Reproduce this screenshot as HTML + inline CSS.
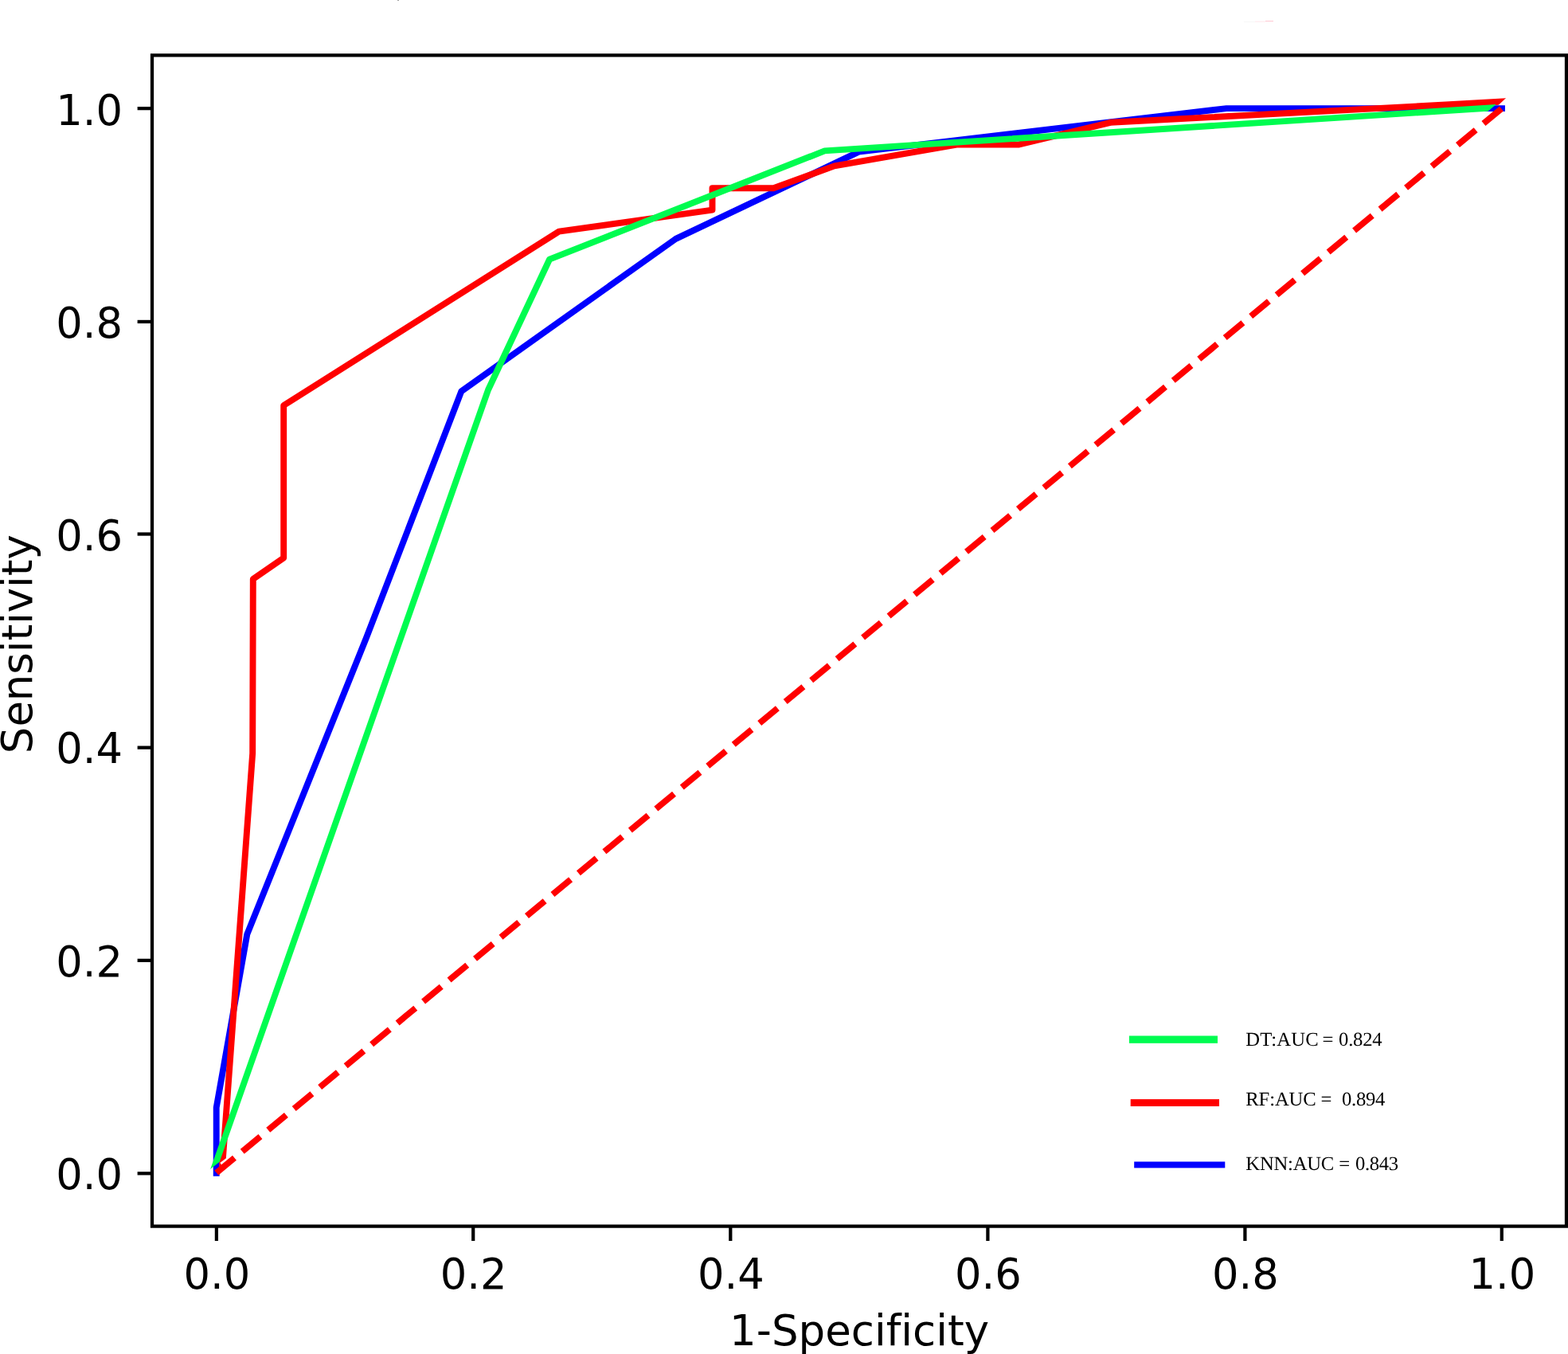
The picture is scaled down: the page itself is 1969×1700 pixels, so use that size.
<!DOCTYPE html>
<html lang="en">
<head>
<meta charset="utf-8">
<title>ROC curves</title>
<style>
html,body{margin:0;padding:0;background:#fff;}
body{width:1969px;height:1700px;overflow:hidden;}
svg{display:block;}
.t{font-family:"DejaVu Sans","Liberation Sans",sans-serif;font-size:52.7px;fill:#000;font-variant-ligatures:none;font-feature-settings:"liga" 0,"clig" 0;font-kerning:none;}
.lg{font-family:"Liberation Serif","DejaVu Serif",serif;font-size:24.7px;fill:#000;white-space:pre;text-rendering:geometricPrecision;}
.c{fill:none;stroke-width:7.9;stroke-linejoin:round;stroke-linecap:butt;}
.sq{stroke-linecap:square;}
</style>
</head>
<body>
<svg width="1969" height="1700" viewBox="0 0 1969 1700">
<rect x="0" y="0" width="1969" height="1700" fill="#fff"/>
<defs>
<clipPath id="cg"><polygon points="0,0 2033.3,0 1670.9,307.5 800,1051 264.2,1467.8 0,1673"/></clipPath>
<clipPath id="cr"><polygon points="0,0 2021.7,0 1702.9,300.3 800,1074 283.96,1454.2 0,1663"/></clipPath>
</defs>
<polyline class="c sq" stroke="#0000ff" points="271.7,1472.7 271.7,1390.6 310.3,1173 460.3,800 579.4,491.2 848.6,299.9 1078.4,190.6 1540.2,136.1 1886,136.1"/>
<polyline class="c" stroke="#ff0000" clip-path="url(#cr)" points="277.5,1487 317.2,945.7 317.8,727.1 356.2,700.4 356.2,509 701.9,290.7 894.5,263.6 894.5,236.1 971.3,236.2 1047.8,208.4 1201.4,181.6 1278.8,181.6 1394.4,153.8 1820,131.3 1900,126.8"/>
<polygon fill="#ff0000" points="275.4,1459 277.2,1461 279.2,1465.6 275.4,1468.2"/>
<polyline class="c" stroke="#00fc50" clip-path="url(#cg)" points="262.3,1485 613,489.5 690,325.7 1035.6,189.4 1820,138.8 1895,134"/>
<line x1="271.8" y1="1472.6" x2="1885.4" y2="136.5" stroke="#ff0000" stroke-width="7.8" stroke-dasharray="29.4 12.76"/>
<rect x="499" y="0" width="2" height="1" fill="#a0a0a0"/>
<rect x="1562" y="27" width="14" height="1" fill="#f6f6f6"/>
<rect x="1576" y="26.6" width="13" height="1" fill="#ffe6ea"/>
<rect x="1589" y="26" width="10" height="1" fill="#ffc8d2"/>
<rect x="191.0" y="69.4" width="1776.0" height="1470.1999999999998" fill="none" stroke="#000" stroke-width="4.25"/>
<line x1="271.90" y1="1539.6" x2="271.90" y2="1558.0" stroke="#000" stroke-width="4.25"/>
<text class="t" x="272.40" y="1618" text-anchor="middle">0.0</text>
<line x1="594.20" y1="1539.6" x2="594.20" y2="1558.0" stroke="#000" stroke-width="4.25"/>
<text class="t" x="594.70" y="1618" text-anchor="middle">0.2</text>
<line x1="917.30" y1="1539.6" x2="917.30" y2="1558.0" stroke="#000" stroke-width="4.25"/>
<text class="t" x="917.80" y="1618" text-anchor="middle">0.4</text>
<line x1="1240.40" y1="1539.6" x2="1240.40" y2="1558.0" stroke="#000" stroke-width="4.25"/>
<text class="t" x="1240.90" y="1618" text-anchor="middle">0.6</text>
<line x1="1563.40" y1="1539.6" x2="1563.40" y2="1558.0" stroke="#000" stroke-width="4.25"/>
<text class="t" x="1563.90" y="1618" text-anchor="middle">0.8</text>
<line x1="1885.80" y1="1539.6" x2="1885.80" y2="1558.0" stroke="#000" stroke-width="4.25"/>
<text class="t" x="1886.30" y="1618" text-anchor="middle">1.0</text>
<line x1="191.0" y1="1473.28" x2="172.6" y2="1473.28" stroke="#000" stroke-width="4.25"/>
<text class="t" x="154" y="1493" text-anchor="end">0.0</text>
<line x1="191.0" y1="1205.85" x2="172.6" y2="1205.85" stroke="#000" stroke-width="4.25"/>
<text class="t" x="154" y="1226" text-anchor="end">0.2</text>
<line x1="191.0" y1="938.65" x2="172.6" y2="938.65" stroke="#000" stroke-width="4.25"/>
<text class="t" x="154" y="958" text-anchor="end">0.4</text>
<line x1="191.0" y1="670.53" x2="172.6" y2="670.53" stroke="#000" stroke-width="4.25"/>
<text class="t" x="154" y="691" text-anchor="end">0.6</text>
<line x1="191.0" y1="403.92" x2="172.6" y2="403.92" stroke="#000" stroke-width="4.25"/>
<text class="t" x="154" y="424" text-anchor="end">0.8</text>
<line x1="191.0" y1="136.14" x2="172.6" y2="136.14" stroke="#000" stroke-width="4.25"/>
<text class="t" x="154" y="157" text-anchor="end">1.0</text>
<text class="t" style="font-size:53px" x="1079.1" y="1689.1" text-anchor="middle">1-Specificity</text>
<text class="t" style="font-size:52.8px" transform="translate(39.7 808.7) rotate(-90)" text-anchor="middle">Sensitivity</text>
<rect x="1417.9" y="1300.5" width="111.1" height="9.3" fill="#00fc50"/>
<rect x="1419.7" y="1380.1" width="111.3" height="8.9" fill="#ff0000"/>
<rect x="1424.2" y="1458.5" width="114.1" height="7.9" fill="#0000ff"/>
<text class="lg" y="1313"><tspan x="1564.3" style="letter-spacing:0.15px">DT:AUC</tspan> <tspan x="1660.5" style="letter-spacing:0px">=</tspan> <tspan x="1681.1" style="letter-spacing:-0.25px">0.824</tspan></text>
<text class="lg" y="1388"><tspan x="1564.3" style="letter-spacing:-0.15px">RF:AUC</tspan> <tspan x="1658.5" style="letter-spacing:0px">=</tspan>  <tspan x="1685.1" style="letter-spacing:-0.35px">0.894</tspan></text>
<text class="lg" y="1469"><tspan x="1564.3" style="letter-spacing:-0.25px">KNN:AUC</tspan> <tspan x="1681.2" style="letter-spacing:0px">=</tspan> <tspan x="1702.1" style="letter-spacing:-0.4px">0.843</tspan></text>
</svg>
</body>
</html>
